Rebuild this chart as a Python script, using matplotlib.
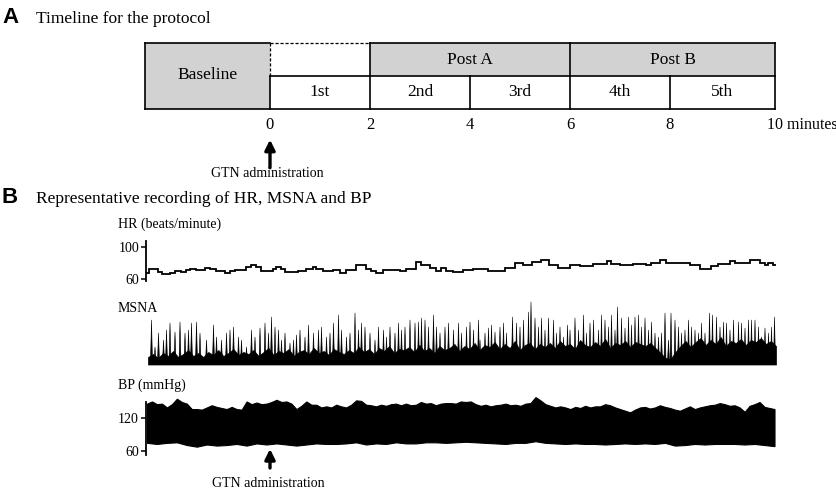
import numpy as np
import matplotlib.pyplot as plt
from matplotlib.patches import Rectangle
from matplotlib.collections import PolyCollection

plt.rcParams['font.family'] = ['Liberation Serif', 'DejaVu Serif']

# ---------------- panel A: protocol timeline (minutes after GTN) ----------------
baseline_span = [-2.5, 0]
period_labels = ['1st', '2nd', '3rd', '4th', '5th']
period_edges = [0, 2, 4, 6, 8, 10.1]
phase_labels = ['Post A', 'Post B']
phase_edges = [2, 6, 10.1]
minute_ticks = [0, 2, 4, 6, 8, 10]
gtn_time = 0

# ---------------- panel B: recordings ----------------
# HR (beats/minute) as steps, edges in minutes
hr_edges = [-2.47, -2.41, -2.33, -2.23, -2.15, -2.00, -1.90, -1.77, -1.67, -1.60,
            -1.48, -1.30, -1.20, -1.07, -0.90, -0.80, -0.70, -0.47, -0.37, -0.27,
            -0.17, 0.07, 0.13, 0.23, 0.30, 0.57, 0.73, 0.87, 0.93, 1.07,
            1.27, 1.40, 1.53, 1.73, 1.93, 2.03, 2.13, 2.27, 2.60, 2.73,
            2.93, 3.03, 3.20, 3.33, 3.43, 3.53, 3.67, 3.87, 4.07, 4.37,
            4.70, 4.90, 5.07, 5.23, 5.43, 5.57, 5.77, 6.00, 6.20, 6.47,
            6.73, 6.83, 7.00, 7.27, 7.53, 7.63, 7.80, 7.93, 8.13, 8.40,
            8.60, 8.83, 8.97, 9.20, 9.30, 9.60, 9.80, 9.90, 9.97, 10.07, 10.12]
hr_values = [68, 73, 72, 69, 66, 68, 69.5, 69, 71, 73,
             71.5, 74, 72, 70.5, 68, 70.5, 71.5, 74.5, 78, 74.5,
             70.5, 72, 75, 73, 69, 70.5, 73, 74.5, 72, 70,
             71, 68, 71.5, 77, 73, 69.5, 68, 71, 69.5, 73,
             81, 78, 74, 70.5, 74, 70.5, 69, 71.5, 72, 70.5,
             73.5, 80, 77, 81, 84, 78, 74, 77, 76.5, 79,
             83, 79, 78, 79, 77, 80, 84, 80, 80.5, 77,
             73, 76, 79, 83, 79.5, 83.5, 80, 78, 80.5, 78]

# MSNA bursts: time (minutes) and peak height (a.u.)
msna_times = [-2.37, -2.30, -2.23, -2.13, -2.07, -2.00, -1.90, -1.80, -1.70, -1.63,
              -1.57, -1.47, -1.40, -1.27, -1.13, -1.07, -0.97, -0.87, -0.80, -0.73,
              -0.63, -0.57, -0.47, -0.37, -0.30, -0.20, -0.10, -0.03, 0.03, 0.10,
              0.17, 0.23, 0.30, 0.40, 0.47, 0.53, 0.60, 0.70, 0.77, 0.87,
              0.97, 1.03, 1.13, 1.20, 1.27, 1.37, 1.43, 1.53, 1.60, 1.70,
              1.77, 1.83, 1.90, 2.00, 2.10, 2.17, 2.27, 2.33, 2.40, 2.50,
              2.57, 2.63, 2.70, 2.80, 2.90, 2.97, 3.03, 3.10, 3.17, 3.27,
              3.33, 3.40, 3.50, 3.57, 3.67, 3.77, 3.83, 3.93, 4.00, 4.07,
              4.17,
              4.20, 4.30, 4.37, 4.43, 4.50, 4.60, 4.67, 4.73, 4.85, 4.93,
              5.00, 5.07, 5.17, 5.22, 5.30, 5.37, 5.43, 5.50, 5.57, 5.67,
              5.73, 5.80, 5.87, 5.95, 6.00, 6.10, 6.17, 6.27, 6.33, 6.40,
              6.47, 6.57, 6.63, 6.70, 6.77, 6.83, 6.90, 6.95, 7.03, 7.10,
              7.17, 7.23, 7.30, 7.37, 7.43, 7.50, 7.57, 7.63, 7.70, 7.77,
              7.83, 7.90, 7.97, 8.02, 8.10, 8.17, 8.23, 8.30, 8.37, 8.43,
              8.50, 8.57, 8.63, 8.70, 8.79, 8.85, 8.93, 9.00, 9.07, 9.13,
              9.20, 9.27, 9.37, 9.43, 9.50, 9.57, 9.63, 9.70, 9.77, 9.83,
              9.90, 9.97, 10.03, 10.09]
msna_peaks = [42, 15, 29, 22, 32, 39, 30, 40, 29, 32,
              39, 40, 29, 22, 37, 25, 22, 29, 32, 35,
              25, 22, 15, 32, 25, 34, 39, 29, 45, 35,
              32, 22, 29, 19, 22, 27, 32, 25, 37, 29,
              32, 35, 25, 29, 39, 47, 32, 25, 29, 49,
              32, 39, 35, 29, 22, 35, 32, 25, 35, 29,
              39, 32, 35, 42, 39, 40, 44, 42, 35, 47,
              35, 29, 35, 39, 32, 39, 29, 35, 40, 32,
              42,
              22, 29, 34, 37, 30, 35, 39, 29, 45, 39,
              35, 42, 50, 60, 44, 35, 44, 32, 44, 42,
              29, 35, 25, 37, 32, 44, 32, 47, 29, 39,
              42, 32, 47, 42, 35, 47, 32, 55, 44, 34,
              45, 37, 45, 47, 35, 44, 32, 40, 29, 25,
              29, 49, 22, 49, 42, 35, 29, 32, 42, 35,
              32, 29, 39, 29, 49, 47, 45, 35, 40, 39,
              32, 42, 40, 39, 34, 42, 42, 42, 35, 25,
              34, 29, 35, 45]
# dense part of the neurogram under the bursts (every ~0.1 min)
msna_body = [5, 8, 4, 9, 6, 11, 5, 8, 12, 6, 9, 5, 10, 7, 12, 6, 9, 13, 7, 10,
             8, 12, 6, 10, 14, 7, 11, 9, 13, 6, 10, 12, 8, 14, 9, 11, 7, 13, 10, 8,
             12, 9, 15, 10, 13, 8, 14, 11, 16, 9, 13, 12, 15, 10, 17, 11, 14, 9, 16, 12,
             14, 18, 11, 16, 13, 19, 12, 17, 15, 20, 13, 18, 14, 21, 12, 17, 19, 13, 18, 15,
             19, 14, 21, 16, 18, 13, 22, 17, 15, 20, 16, 23, 14, 19, 17, 21, 15, 20, 18, 16,
             19, 14, 9, 4, 3, 10, 16, 21, 15, 20, 24, 17, 22, 18, 25, 16, 21, 19, 23, 17,
             22, 20, 24, 18, 21, 16]

# BP (mmHg): upper (systolic) and lower (diastolic) envelope
bp_upper = [146, 150, 145, 146, 139, 145, 155, 149, 146, 136,
            136, 135, 139, 143, 140, 138, 136, 140, 136, 135,
            150, 145, 148, 145, 146, 149, 153, 149, 150, 146,
            136, 142, 150, 144, 144, 139, 141, 139, 144, 141,
            139, 144, 152, 151, 144, 143, 141, 144, 142, 145,
            146, 143, 146, 143, 144, 149, 146, 147, 143, 146,
            147, 147, 146, 150, 149, 150, 145,
            142, 144, 141, 143, 144, 146, 143, 144, 142, 146,
            147, 158, 152, 145, 142, 139, 141, 139, 136, 140,
            138, 142, 139, 141, 141, 145, 143, 139, 136, 133,
            130, 135, 139, 140, 137, 139, 143, 140, 138, 135,
            133, 137, 141, 136, 139, 141, 143, 144, 147, 145,
            142, 143, 139, 131, 142, 145, 149, 140, 138, 136]
bp_lower = [74, 72, 74, 75, 70, 67, 71, 69, 70, 72,
            69, 73, 71, 73, 71, 69, 71, 73, 72, 72,
            73, 75, 71, 73, 72, 75, 73, 73, 75, 75,
            74, 75, 76, 75, 74, 73, 72, 74, 74, 77,
            74, 73, 72, 73, 72, 72, 71, 72, 73, 72,
            73, 72, 74, 69, 70, 72, 71, 72, 72, 72,
            71, 72, 70, 68]

GRAY = '#d2d2d2'
W, H = 837, 490
X0, X1 = -3.0, 10.6          # minutes across the shared horizontal extent
L, R = 120, 800               # pixel extent of that range


def fx(px):
    return px / W


def fy(py):
    return 1 - py / H


def add_ax(top, bottom):
    return fig.add_axes([fx(L), fy(bottom), (R - L) / W, (bottom - top) / H])


fig = plt.figure(figsize=(W / 100, H / 100), dpi=100)

# ---------------- panel A ----------------
fig.text(fx(2), fy(23), 'A', fontsize=16, fontweight='bold', family='Liberation Sans', va='baseline')
fig.text(fx(36), fy(23), 'Timeline for the protocol', fontsize=12.5, va='baseline')

axA = add_ax(30, 185)
axA.set_xlim(X0, X1)
axA.set_ylim(-76 / 33, 2 + 13 / 33)
axA.axis('off')

b0, b1 = baseline_span
end = period_edges[-1]
axA.add_patch(Rectangle((b0, 0), b1 - b0, 2, fc=GRAY, ec='none'))
axA.add_patch(Rectangle((phase_edges[0], 1), phase_edges[-1] - phase_edges[0], 1, fc=GRAY, ec='none'))

lw = 1.2
kw = dict(color='k', lw=lw, solid_capstyle='projecting')
axA.plot([b0, end], [0, 0], **kw)
axA.plot([b0, b0], [0, 2], **kw)
axA.plot([b0, b1], [2, 2], **kw)
axA.plot([phase_edges[0], end], [2, 2], **kw)
axA.plot([b1, end], [1, 1], **kw)
axA.plot([b1, b1], [0, 1], **kw)
for e in period_edges[1:]:
    top = 2 if e in phase_edges else 1
    axA.plot([e, e], [0, top], **kw)
# the first two minutes are not part of a phase
axA.plot([b1, phase_edges[0]], [2, 2], color='k', lw=0.9, ls=(0, (2.5, 1.5)))
axA.plot([b1, b1], [1, 2], color='k', lw=0.9, ls=(0, (2.5, 1.5)))

axA.text((b0 + b1) / 2, 1.03, 'Baseline', ha='center', va='center', fontsize=12.5)
for i, lab in enumerate(phase_labels):
    axA.text((phase_edges[i] + phase_edges[i + 1]) / 2, 1.5, lab, ha='center', va='center', fontsize=12.5)
for i, lab in enumerate(period_labels):
    axA.text((period_edges[i] + period_edges[i + 1]) / 2, 0.5, lab, ha='center', va='center', fontsize=12.5)
for m in minute_ticks[:-1]:
    axA.text(m, -0.485, str(m), ha='center', va='center', fontsize=12)
axA.text(minute_ticks[-1] - 0.05, -0.485, f'{minute_ticks[-1]} minutes', ha='left', va='center', fontsize=11.5)

axA.annotate('', xy=(gtn_time, -0.93), xytext=(gtn_time, -1.78),
             arrowprops=dict(arrowstyle='-|>,head_width=0.3,head_length=0.6', lw=2.4, color='k',
                             shrinkA=0, shrinkB=0))
axA.text(gtn_time - 0.05, -2.07, 'GTN administration', ha='center', va='baseline', fontsize=10)

# ---------------- panel B ----------------
fig.text(fx(2), fy(203), 'B', fontsize=16, fontweight='bold', family='Liberation Sans', va='baseline')
fig.text(fx(36), fy(203), 'Representative recording of HR, MSNA and BP', fontsize=12.5, va='baseline')

fig.text(fx(118), fy(228), 'HR (beats/minute)', fontsize=10, va='baseline')
fig.text(fx(118), fy(312), 'MSNA', fontsize=10, va='baseline')
fig.text(fx(118), fy(389), 'BP (mmHg)', fontsize=10, va='baseline')


def trace_axis(ax, xpos, lo, hi, ticks):
    for s in ['top', 'right', 'bottom']:
        ax.spines[s].set_visible(False)
    ax.spines['left'].set_position(('data', xpos))
    ax.spines['left'].set_bounds(lo, hi)
    ax.spines['left'].set_linewidth(1.3)
    ax.set_xticks([])
    ax.set_yticks(ticks)
    ax.tick_params(axis='y', length=3.5, width=1.1, labelsize=10, pad=1.5)
    ax.patch.set_visible(False)


# HR
axH = add_ax(240, 282)
axH.set_xlim(X0, X1)
axH.set_ylim(60 - 3 / 0.8, 60 + 39 / 0.8)
trace_axis(axH, -2.47, 57.5, 107, [60, 100])
axH.stairs(hr_values, hr_edges, baseline=None, color='k', lw=1.3)

# MSNA
axM = add_ax(295, 368)
axM.set_xlim(X0, X1)
axM.set_ylim(-6, 67)
axM.axis('off')
tb = np.linspace(-2.44, 10.12, len(msna_body))
axM.fill_between(tb, -2.5, msna_body, color='k', lw=0.5)
# each burst drawn as a thin spike standing on the baseline
d = 0.02
spikes = [[(t - d, 0), (t, h), (t + d, 0)] for t, h in zip(msna_times, msna_peaks)]
axM.add_collection(PolyCollection(spikes, facecolor='k', edgecolor='k', lw=0.4))

# BP
axB = add_ax(390, 460)
axB.set_xlim(X0, X1)
axB.set_ylim(60 - 9 / 0.545, 120 + 28.3 / 0.545)
trace_axis(axB, -2.48, 53, 150.5, [60, 120])
tu = np.linspace(-2.45, 10.1, len(bp_upper))
tl = np.linspace(-2.45, 10.1, len(bp_lower))
axB.fill(np.r_[tu, tl[::-1]], np.r_[bp_upper, bp_lower[::-1]], color='k', lw=0.8)

axB.annotate('', xy=(gtn_time, 60 - (449 - 451) / 0.545), xytext=(gtn_time, 60 - (468 - 451) / 0.545),
             arrowprops=dict(arrowstyle='-|>,head_width=0.3,head_length=0.6', lw=2.4, color='k',
                             shrinkA=0, shrinkB=0), annotation_clip=False)
fig.text(fx(268), fy(487), 'GTN administration', ha='center', va='baseline', fontsize=10)

fig.savefig('out.png', dpi=100)
